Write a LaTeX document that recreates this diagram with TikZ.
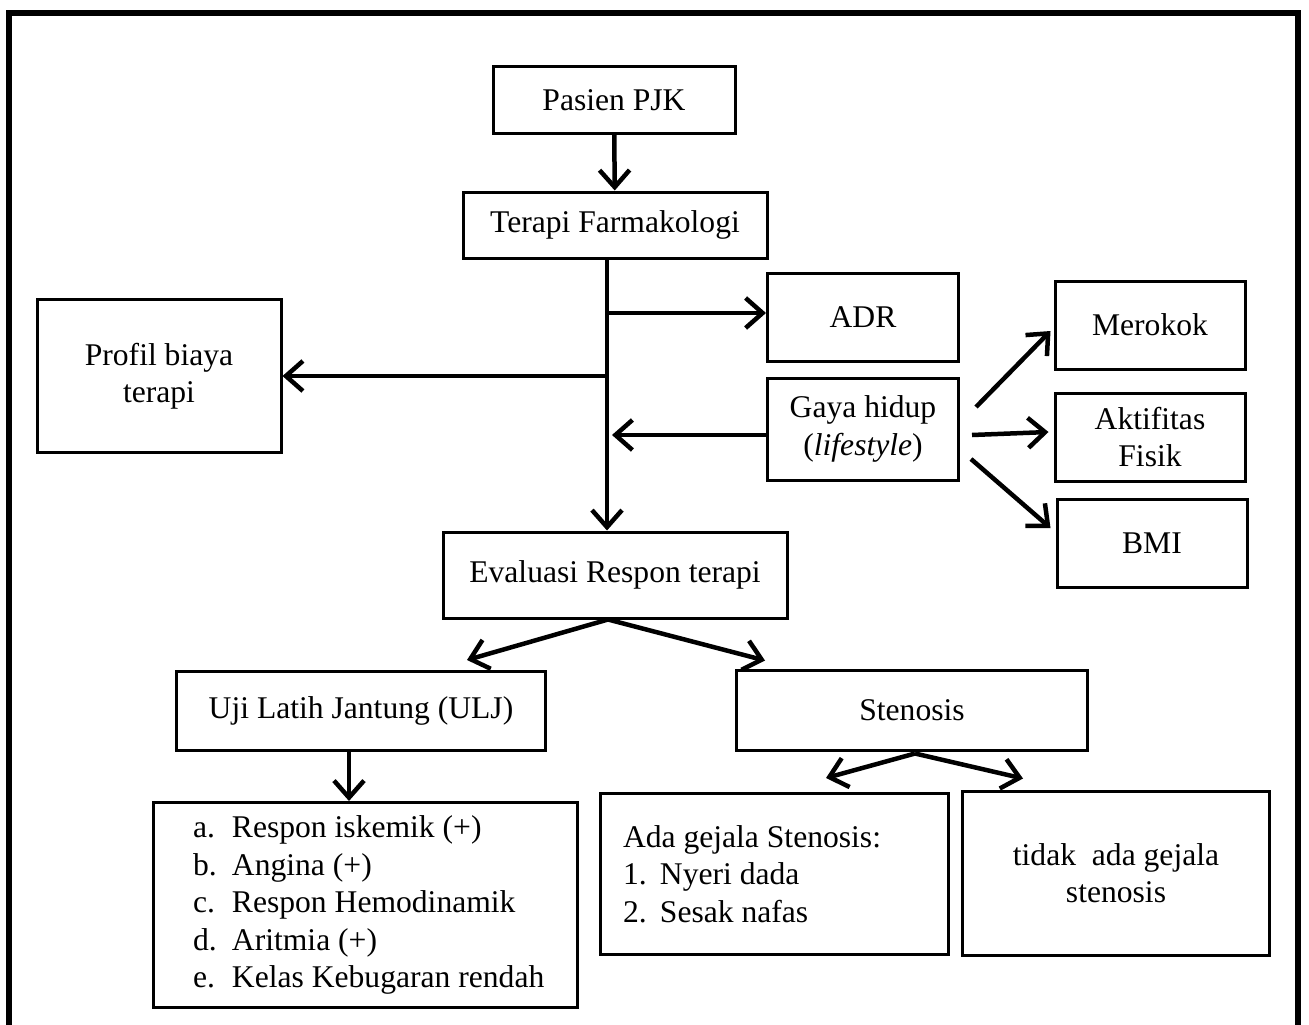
\documentclass[tikz,border=0pt]{standalone}
\usepackage{fontspec}
\setmainfont{Liberation Serif}
\usetikzlibrary{positioning,arrows.meta,calc}

\begin{document}
\begin{tikzpicture}[
  x=1pt, y=-1pt,
  font=\fontsize{31.6}{37.5}\selectfont,
  box/.style={draw, line width=3pt, align=center, inner sep=0pt,
              minimum width=#1},
  listbox/.style={draw, line width=3pt, align=flush left, inner ysep=0pt},
  arr/.style={-{Straight Barb[length=17pt, width=30pt]}, line width=4.5pt},
]
\useasboundingbox (0,0) rectangle (1309,1025);

% ---------- Bingkai ----------
\draw[line width=6pt] (9,1040) -- (9,13) -- (1298,13) -- (1298,1040);

% ---------- Alur utama ----------
\node[box=242pt, minimum height=66pt] (pasien) at (614,100) {Pasien PJK};
\node[box=304pt, minimum height=66pt] (terapi) at (615,225) {Terapi Farmakologi};
\node[box=191pt, minimum height=88pt] (adr) at (863,317) {ADR};
\node[box=191pt, minimum height=102pt] (gaya) at (863,429) {Gaya hidup\\(\textit{lifestyle})};
\node[box=244pt, minimum height=153pt] (profil) at (159,376) {Profil biaya\\terapi};
\node[box=344pt, minimum height=86pt] (evaluasi) at (615,575) {Evaluasi Respon terapi};
\coordinate (trunk) at (607,0);

% ---------- Gaya hidup ----------
\node[box=190pt, minimum height=88pt] (merokok) at (1150,325) {Merokok};
\node[box=190pt, minimum height=88pt] (aktif) at (1150,437) {Aktifitas\\Fisik};
\node[box=190pt, minimum height=88pt] (bmi) at (1152,543) {BMI};

% ---------- Evaluasi ----------
\node[box=369pt, minimum height=79pt] (uji) at (361,711) {Uji Latih Jantung (ULJ)};
\node[box=351pt, minimum height=80pt] (stenosis) at (912,710) {Stenosis};
\node[listbox, text width=384pt, inner xsep=20pt, minimum height=205pt] (ujilist) at (365,905) {
  \hspace*{20pt}\makebox[39pt][l]{a.}Respon iskemik (+)\\
  \hspace*{20pt}\makebox[39pt][l]{b.}Angina (+)\\
  \hspace*{20pt}\makebox[39pt][l]{c.}Respon Hemodinamik\\
  \hspace*{20pt}\makebox[39pt][l]{d.}Aritmia (+)\\
  \hspace*{20pt}\makebox[39pt][l]{e.}Kelas Kebugaran rendah};
\node[listbox, text width=302pt, inner xsep=23pt, minimum height=161pt] (ada) at (774,874) {
  Ada gejala Stenosis:\\
  \makebox[37pt][l]{1.}Nyeri dada\\
  \makebox[37pt][l]{2.}Sesak nafas};
\node[box=307pt, minimum height=164pt] (tidak) at (1116,873) {tidak\ \ ada gejala\\stenosis};

% ---------- Panah ----------
\draw[arr] (pasien) -- (terapi);
\draw[arr] (terapi.south -| trunk) -- (trunk |- evaluasi.north);
\draw[arr] ($(adr.west -| trunk)+(0,-4)$) -- ($(adr.west)+(0,-4)$);
\draw[arr] (profil.east -| trunk) -- (profil.east);
\draw[arr] ($(gaya.west)+(0,6)$) -- ($(gaya.west -| trunk)+(5,6)$);
\draw[arr] ($(gaya.east)+(16,-22)$) -- ($(merokok.west)+(-3,6)$);
\draw[arr] ($(gaya.east)+(12,6)$) -- ($(aktif.west)+(-5,-5)$);
\draw[arr] ($(gaya.east)+(11,30)$) -- ($(bmi.west)+(-5,-15)$);

\coordinate (fork) at ($(evaluasi.south)+(-7,0)$);
\draw[arr] (fork) -- ($(uji.north)+(106,-10)$);
\draw[arr] (fork) -- ($(stenosis.north)+(-147,-8)$);
\draw[arr] ($(uji.south)+(-12,0)$) -- ($(ujilist.north)+(-16,0)$);

\coordinate (sfork) at ($(stenosis.south)+(3,2)$);
\draw[arr] (sfork) -- ($(ada.north)+(52,-14)$);
\draw[arr] (sfork) -- ($(tidak.north)+(-93,-11)$);
\end{tikzpicture}
\end{document}
